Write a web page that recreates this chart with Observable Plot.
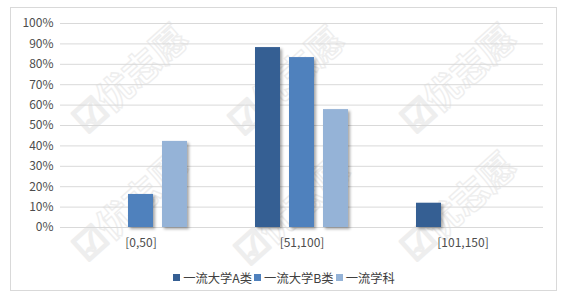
<!DOCTYPE html>
<html><head><meta charset="utf-8">
<script src="https://cdn.jsdelivr.net/npm/d3@7"></script>
<script src="https://cdn.jsdelivr.net/npm/@observablehq/plot@0.6"></script>
<style>
html,body{margin:0;padding:0;background:#fff;}
#wrap{position:relative;width:571px;height:299px;overflow:hidden;font-family:"Noto Sans CJK SC","Noto Sans",sans-serif;}
#frame{position:absolute;left:10px;top:7px;width:547px;height:284px;border:1px solid #d9d9d9;box-sizing:border-box;}
.wm{position:absolute;font-size:36px;font-weight:bold;line-height:1;color:rgba(0,0,0,0);-webkit-text-stroke:1.4px #eeeeee;transform:rotate(-42deg);transform-origin:left top;white-space:nowrap;font-family:"Noto Sans CJK SC",sans-serif;}
#chart{position:absolute;left:0;top:0;}
#legend{position:absolute;top:267px;left:0;width:568px;text-align:center;font-size:12.3px;color:#404040;}
#legend span.it{display:inline-flex;align-items:center;margin:0 1px;}
#legend i{display:inline-block;width:7px;height:7px;margin-right:3px;}
</style></head>
<body><div id="wrap">
<div id="frame"></div>
<div class="wm" style="left:64px;top:110px">☑优志愿</div>
<div class="wm" style="left:220px;top:112px">☑优志愿</div>
<div class="wm" style="left:392px;top:110px">☑优志愿</div>
<div class="wm" style="left:64px;top:238px">☑优志愿</div>
<div class="wm" style="left:226px;top:242px">☑优志愿</div>
<div class="wm" style="left:392px;top:238px">☑优志愿</div>
<div id="chart"></div>
<div id="legend"></div>
</div>
<script>
const categories = ["[0,50]", "[51,100]", "[101,150]"];
const series = ["一流大学A类", "一流大学B类", "一流学科"];
const valuesA = [0, 0.882, 0.119];
const valuesB = [0.162, 0.833, 0];
const valuesS = [0.422, 0.578, 0];
const colors = ["#355f93", "#4f81bd", "#95b3d7"];
const yTicks = [0,0.1,0.2,0.3,0.4,0.5,0.6,0.7,0.8,0.9,1.0];

const allVals = [valuesA, valuesB, valuesS];
const data = [];
categories.forEach((c, i) => series.forEach((s, j) => {
  if (allVals[j][i] > 0) data.push({cat: c, s, v: allVals[j][i]});
}));

const chart = Plot.plot({
  width: 571, height: 260,
  marginLeft: 60, marginRight: 28, marginTop: 23, marginBottom: 33,
  style: {fontFamily: '"Noto Sans CJK SC","Noto Sans",sans-serif', fontSize: "12px", color: "#4d4d4d", background: "transparent"},
  fx: {domain: categories, padding: 0, label: null},
  x: {domain: series, paddingInner: 0.27, paddingOuter: 1.0, axis: null},
  y: {domain: [0, 1], ticks: yTicks, label: null},
  color: {domain: series, range: colors},
  marks: [
    Plot.gridY(yTicks, {stroke: "#d9d9d9", strokeOpacity: 1}),
    Plot.axisY(yTicks, {tickFormat: d => Math.round(d*100) + "%", tickSize: 0, tickPadding: 7, label: null}),
    Plot.axisFx({tickSize: 0, tickPadding: 11, label: null, anchor: "bottom"}),
    Plot.barY(data, {fx: "cat", x: "s", y: "v", fill: "s", imageFilter: "drop-shadow(2px 2px 1.5px rgba(0,0,0,0.35))"})
  ]
});
document.getElementById("chart").appendChild(chart);

const lg = document.getElementById("legend");
series.forEach((s, j) => {
  const sp = document.createElement("span");
  sp.className = "it";
  sp.innerHTML = `<i style="background:${colors[j]}"></i>${s}`;
  lg.appendChild(sp);
});
</script>
</body></html>
